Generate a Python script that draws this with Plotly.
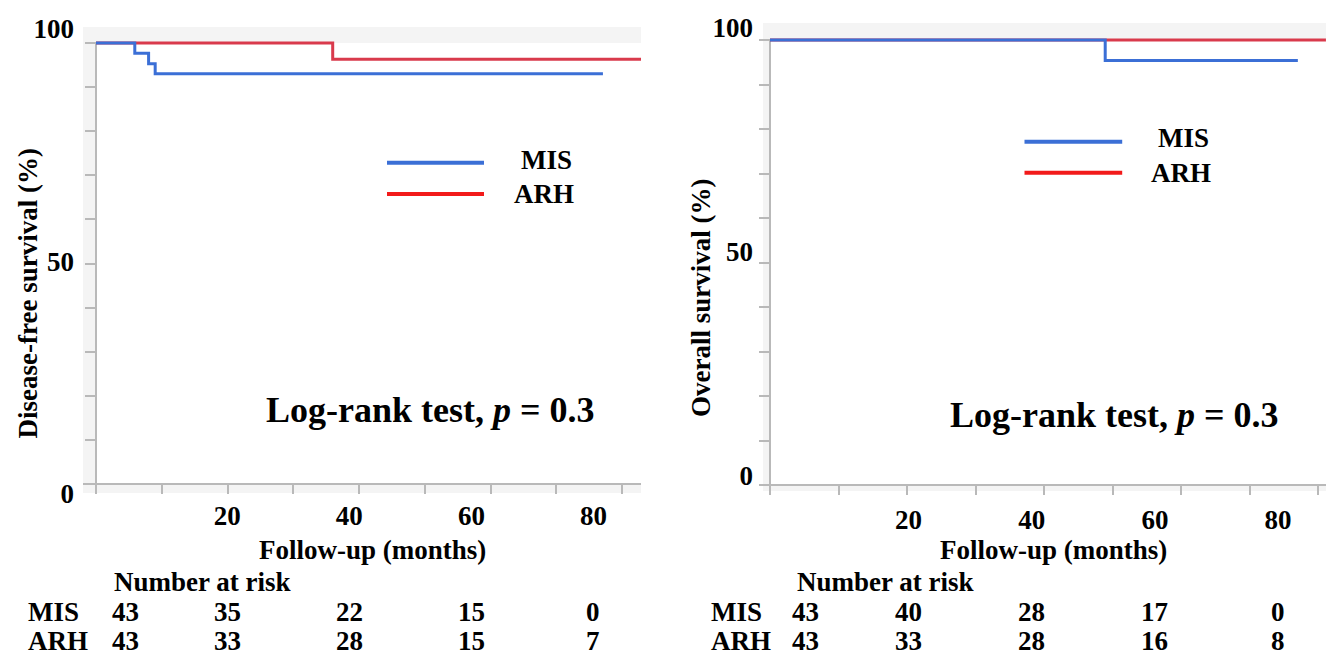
import plotly.graph_objects as go

W, H = 1326, 657

# ---------------- data ----------------
groups = ["MIS", "ARH"]

# Disease-free survival (left panel), months / percent
dfs_mis_t = [0, 5.9, 8.0, 9.0, 77.1]
dfs_mis_s = [100, 97.7, 95.3, 93.0, 93.0]
dfs_arh_t = [0, 36.0, 82.9]
dfs_arh_s = [100, 96.3, 96.3]

# Overall survival (right panel)
os_mis_t = [0, 48.9, 77.0]
os_mis_s = [100, 95.4, 95.4]
os_arh_t = [0, 81.1]
os_arh_s = [100, 100]

risk_times = [0, 20, 40, 60, 80]
dfs_risk_mis = [43, 35, 22, 15, 0]
dfs_risk_arh = [43, 33, 28, 15, 7]
os_risk_mis = [43, 40, 28, 17, 0]
os_risk_arh = [43, 33, 28, 16, 8]

x_minor_ticks = list(range(0, 81, 10))
y_minor_ticks = list(range(0, 101, 10))
x_label_ticks = [20, 40, 60, 80]
y_label_ticks = [0, 50, 100]

pvalue_text = "Log-rank test, <i>p</i> = 0.3"
dfs_title = "Disease-free survival (%)"
os_title = "Overall survival (%)"
x_title = "Follow-up (months)"

# ---------------- style ----------------
BLUE = "#3b6fd6"
RED = "#d93a4c"
RED_LEG = "#f21a1a"
GRAY = "#b9b9b9"
BAND = "#f4f4f4"
FONT = "Liberation Serif, Times New Roman, serif"


def px(x):
    return x / W


def py(y):
    return 1 - y / H


# pixel geometry of both panels
P = {
    "L": dict(x0=83, x1=641, ax=96, ppm=6.575, ytop=25, ybot=500, y100=43, y0=484,
              lab100=29, lab0=494, labx0=105.2, labppu=6.1035, band_top=27, band_bot=493,
              leg_x=(387, 484), leg_y=(162.7, 194), leg_tx=(546.7, 543.7), leg_ty=(160, 194),
              pv=(430.8, 410), ytitle=(27, 293.5), xtitle=(372.5, 550), nar_x=112, row_x=27.4,
              xlab_y=503, ylab_right=70),
    "R": dict(x0=763, x1=1326, ax=770, ppm=6.855, ytop=20, ybot=495, y100=40, y0=485,
              lab100=28, lab0=476, labx0=785.3, labppu=6.16, band_top=23, band_bot=491,
              leg_x=(1024.5, 1122.2), leg_y=(141.7, 172.7), leg_tx=(1183, 1181), leg_ty=(138, 173),
              pv=(1114.6, 415), ytitle=(701, 298), xtitle=(1053.5, 550), nar_x=795, row_x=710,
              xlab_y=507, ylab_right=749),
}
ROW_Y = [612, 641]

fig = go.Figure()

panels = [
    ("L", "", "3", dfs_title, [(dfs_arh_t, dfs_arh_s, RED), (dfs_mis_t, dfs_mis_s, BLUE)],
     dfs_risk_mis, dfs_risk_arh),
    ("R", "2", "4", os_title, [(os_arh_t, os_arh_s, RED), (os_mis_t, os_mis_s, BLUE)],
     os_risk_mis, os_risk_arh),
]

layout = dict(
    width=W, height=H, autosize=False,
    margin=dict(l=0, r=0, t=0, b=0, pad=0),
    paper_bgcolor="white", plot_bgcolor="rgba(0,0,0,0)",
    showlegend=False,
    font=dict(family=FONT, size=27, color="black", weight="bold"),
)
shapes = []
annotations = []

for key, mi, li, ytitle, curves, risk_mis, risk_arh in panels:
    p = P[key]
    xr = [(p["x0"] - p["ax"]) / p["ppm"], (p["x1"] - p["ax"]) / p["ppm"]]
    yppu = (p["y0"] - p["y100"]) / 100
    yr = [-(p["ybot"] - p["y0"]) / yppu, 100 + (p["y100"] - p["ytop"]) / yppu]
    lxr = [(p["x0"] - p["labx0"]) / p["labppu"], (p["x1"] - p["labx0"]) / p["labppu"]]
    lyppu = (p["lab0"] - p["lab100"]) / 100
    lyr = [-(p["ybot"] - p["lab0"]) / lyppu, 100 + (p["lab100"] - p["ytop"]) / lyppu]

    xa, ya = "x" + mi, "y" + mi
    xl, yl = "x" + li, "y" + li

    layout["xaxis" + mi] = dict(
        domain=[px(p["x0"]), px(p["x1"])], range=xr, anchor="free", position=py(p["y0"]),
        showline=True, linecolor=GRAY, linewidth=2, ticks="outside", ticklen=9, tickwidth=2,
        tickcolor=GRAY, tickvals=x_minor_ticks, showticklabels=False, showgrid=False,
        zeroline=False, fixedrange=True, automargin=False)
    layout["yaxis" + mi] = dict(
        domain=[py(p["ybot"]), py(p["ytop"])], range=yr, anchor="free", position=px(p["ax"]),
        showline=False, ticks="outside", ticklen=11, tickwidth=2, tickcolor=GRAY,
        tickvals=y_minor_ticks, showticklabels=False, showgrid=False, zeroline=False,
        fixedrange=True, automargin=False)
    layout["xaxis" + li] = dict(
        overlaying=xa, range=lxr, anchor="free", position=py(p["y0"]), showline=False,
        ticks="", tickvals=x_label_ticks, showticklabels=True, showgrid=False, zeroline=False,
        ticklabelstandoff=p["xlab_y"] - p["y0"] - 6, automargin=False,
        tickfont=dict(family=FONT, size=27, color="black", weight="bold"), fixedrange=True)
    layout["yaxis" + li] = dict(
        overlaying=ya, range=lyr, anchor="free", position=px(p["ax"]), showline=False,
        ticks="", tickvals=y_label_ticks, showticklabels=True, showgrid=False, zeroline=False,
        ticklabelstandoff=p["ax"] - p["ylab_right"] - 4, automargin=False,
        tickfont=dict(family=FONT, size=27, color="black", weight="bold"), fixedrange=True)

    # placeholder trace so the label axes are drawn
    fig.add_trace(go.Scatter(x=[None], y=[None], xaxis=xl, yaxis=yl, mode="lines",
                             hoverinfo="skip", showlegend=False))

    # survival curves
    for t, s, c in curves:
        fig.add_trace(go.Scatter(x=t, y=s, xaxis=xa, yaxis=ya, mode="lines",
                                 line=dict(color=c, width=3, shape="hv"),
                                 hoverinfo="skip", showlegend=False))

    # background band (light gray frame) and white plot interior
    shapes.append(dict(type="rect", xref="paper", yref="paper", layer="below",
                       x0=px(p["x0"]), x1=px(p["x1"]), y0=py(p["band_bot"]), y1=py(p["band_top"]),
                       fillcolor=BAND, line=dict(width=0)))
    shapes.append(dict(type="rect", xref="paper", yref="paper", layer="below",
                       x0=px(p["ax"]), x1=px(p["x1"]), y0=py(p["y0"]), y1=py(p["y100"]),
                       fillcolor="white", line=dict(width=0)))
    # y axis line (0 to 100)
    shapes.append(dict(type="line", xref=xa, yref=ya, x0=0, x1=0, y0=0, y1=100,
                       line=dict(color=GRAY, width=2), layer="below"))

    # legend keys
    for gy, col in zip(p["leg_y"], [BLUE, RED_LEG]):
        shapes.append(dict(type="line", xref="paper", yref="paper",
                           x0=px(p["leg_x"][0]), x1=px(p["leg_x"][1]), y0=py(gy), y1=py(gy),
                           line=dict(color=col, width=4)))
    for g, tx, ty in zip(groups, p["leg_tx"], p["leg_ty"]):
        annotations.append(dict(text=g, xref="paper", yref="paper", x=px(tx), y=py(ty),
                                xanchor="center", yanchor="middle", showarrow=False,
                                font=dict(family=FONT, size=27, weight="bold")))

    # p-value text
    annotations.append(dict(text=pvalue_text, xref="paper", yref="paper",
                            x=px(p["pv"][0]), y=py(p["pv"][1]), xanchor="center",
                            yanchor="middle", showarrow=False,
                            font=dict(family=FONT, size=36, weight="bold")))
    # axis titles
    annotations.append(dict(text=ytitle, xref="paper", yref="paper", x=px(p["ytitle"][0]),
                            y=py(p["ytitle"][1]), textangle=-90, xanchor="center",
                            yanchor="middle", showarrow=False,
                            font=dict(family=FONT, size=27, weight="bold")))
    annotations.append(dict(text=x_title, xref="paper", yref="paper", x=px(p["xtitle"][0]),
                            y=py(p["xtitle"][1]), xanchor="center", yanchor="middle",
                            showarrow=False, font=dict(family=FONT, size=27, weight="bold")))
    # number at risk table
    annotations.append(dict(text="Number at risk", xref="paper", yref="paper",
                            x=px(p["nar_x"]), y=py(582), xanchor="left", yanchor="middle",
                            showarrow=False, font=dict(family=FONT, size=27, weight="bold")))
    for g, row_y, vals in zip(groups, ROW_Y, [risk_mis, risk_arh]):
        annotations.append(dict(text=g, xref="paper", yref="paper", x=px(p["row_x"]),
                                y=py(row_y), xanchor="left", yanchor="middle", showarrow=False,
                                borderpad=0,
                                font=dict(family=FONT, size=27, weight="bold")))
        for t, v in zip(risk_times, vals):
            annotations.append(dict(text=str(v), xref=xl, yref="paper", x=t, y=py(row_y),
                                    xshift=20 if t == 0 else 0, xanchor="center",
                                    yanchor="middle", showarrow=False, borderpad=0,
                                    font=dict(family=FONT, size=27, weight="bold")))

layout["shapes"] = shapes
layout["annotations"] = annotations
fig.update_layout(**layout)

fig.write_html("out.html")
